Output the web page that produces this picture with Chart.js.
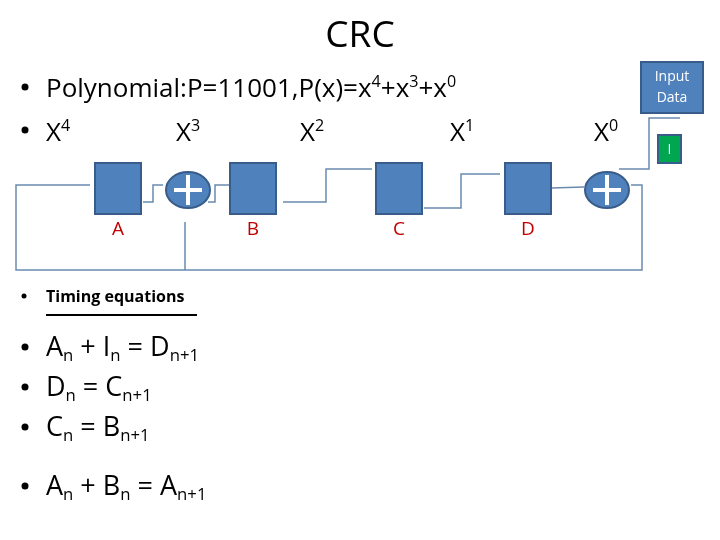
<!DOCTYPE html>
<html>
<head>
<meta charset="utf-8">
<script src="https://cdn.jsdelivr.net/npm/chart.js@4"></script>
<style>
  html, body { margin: 0; padding: 0; background: #fff; }
  #wrap { width: 720px; height: 540px; }
</style>
</head>
<body>
<div id="wrap"><canvas id="myChart"></canvas></div>
<script>
// register cells (A, B, C, D) and xor gates, in slide units (x right, y down)
let cellNames = ["A", "B", "C", "D"];
let cellX = [118, 253, 399, 528];
let cellY = 188;
let xorX = [188, 607];
let xorY = 190;
let powerLabels = ["X4", "X3", "X2", "X1", "X0"];
let powerX = [46, 176, 300, 450, 594];

// wires, null breaks a path
let wireX = [90, 16, 16, 640, 642, 642, 631, null, 163, 153, 153, 143, null, 185, 185, null,
  208, 215, 215, 230, null, 283, 326, 326, 372, null, 424, 461, 461, 500, null,
  551, 584, null, 680, 649, 649, 619];
let wireY = [185, 185, 270, 270, 270, 185, 185, null, 185, 185, 202, 202, null, 270, 222, null,
  202, 202, 185, 185, null, 202, 202, 169, 169, null, 208, 208, 174, 174, null,
  188, 187, null, 118, 118, 169, 169];

let equations = [
  [["A", "n"], ["n", "sub"], [" + I", "n"], ["n", "sub"], [" = D", "n"], ["n+1", "sub"]],
  [["D", "n"], ["n", "sub"], [" = C", "n"], ["n+1", "sub"]],
  [["C", "n"], ["n", "sub"], [" = B", "n"], ["n+1", "sub"]],
  [["A", "n"], ["n", "sub"], [" + B", "n"], ["n", "sub"], [" = A", "n"], ["n+1", "sub"]]
];
let equationY = [356, 396, 436, 495];

let wirePoints = wireX.map((x, i) => (x === null ? { x: NaN, y: NaN } : { x: x, y: wireY[i] }));

const FONT = "'Open Sans', 'Liberation Sans', sans-serif";

function richText(ctx, parts, x, y, size, color) {
  ctx.fillStyle = color;
  ctx.textBaseline = "alphabetic";
  ctx.textAlign = "left";
  for (let p of parts) {
    let s = p[1] === "n" ? size : size * 0.62;
    let dy = p[1] === "sup" ? -size * 0.38 : p[1] === "sub" ? size * 0.18 : 0;
    ctx.font = s + "px " + FONT;
    ctx.fillText(p[0], x, y + dy);
    x += ctx.measureText(p[0]).width;
  }
}

function bullet(ctx, x, y, r) {
  ctx.fillStyle = "#000";
  ctx.beginPath();
  ctx.arc(x, y, r, 0, Math.PI * 2);
  ctx.fill();
}

const slidePlugin = {
  id: "slide",
  afterDatasetsDraw(chart) {
    const ctx = chart.ctx;
    const sx = chart.scales.x, sy = chart.scales.y;
    const px = (v) => sx.getPixelForValue(v);
    const py = (v) => sy.getPixelForValue(v);
    ctx.save();

    ctx.fillStyle = "#000";
    ctx.font = "37px " + FONT;
    ctx.textAlign = "center";
    ctx.textBaseline = "middle";
    ctx.fillText("CRC", px(360), py(36));

    // bullets
    bullet(ctx, px(25), py(87), 3.5);
    bullet(ctx, px(25), py(130), 3.5);
    richText(ctx, [["Polynomial:P=11001,P(x)=x", "n"], ["4", "sup"], ["+x", "n"], ["3", "sup"], ["+x", "n"], ["0", "sup"]],
      px(46), py(97), 26, "#000");
    powerLabels.forEach((l, i) => {
      richText(ctx, [[l[0], "n"], [l.slice(1), "sup"]], px(powerX[i]), py(141), 26, "#000");
    });

    // register cells
    cellX.forEach((cx, i) => {
      ctx.fillStyle = "#4F81BD";
      ctx.strokeStyle = "#385D8A";
      ctx.lineWidth = 2;
      ctx.fillRect(px(cx - 23), py(cellY - 25), 46, 51);
      ctx.strokeRect(px(cx - 23), py(cellY - 25), 46, 51);
      ctx.fillStyle = "#C00000";
      ctx.font = "19px " + FONT;
      ctx.textAlign = "center";
      ctx.textBaseline = "middle";
      ctx.fillText(cellNames[i], px(cx), py(230));
    });

    // xor gates
    xorX.forEach((cx) => {
      ctx.beginPath();
      ctx.ellipse(px(cx), py(xorY), 22, 18, 0, 0, Math.PI * 2);
      ctx.fillStyle = "#4F81BD";
      ctx.fill();
      ctx.strokeStyle = "#385D8A";
      ctx.lineWidth = 2;
      ctx.stroke();
      ctx.strokeStyle = "#fff";
      ctx.lineWidth = 4;
      ctx.beginPath();
      ctx.moveTo(px(cx - 14), py(xorY));
      ctx.lineTo(px(cx + 14), py(xorY));
      ctx.moveTo(px(cx), py(xorY - 15));
      ctx.lineTo(px(cx), py(xorY + 15));
      ctx.stroke();
    });

    // input data box
    ctx.fillStyle = "#4F81BD";
    ctx.strokeStyle = "#385D8A";
    ctx.lineWidth = 2;
    ctx.fillRect(px(641), py(62), 62, 51);
    ctx.strokeRect(px(641), py(62), 62, 51);
    ctx.fillStyle = "#fff";
    ctx.font = "14px " + FONT;
    ctx.textAlign = "center";
    ctx.textBaseline = "middle";
    ctx.fillText("Input", px(672), py(77));
    ctx.fillText("Data", px(672), py(98));
    ctx.fillStyle = "#00A650";
    ctx.strokeStyle = "#385D8A";
    ctx.fillRect(px(658), py(135), 23, 28);
    ctx.strokeRect(px(658), py(135), 23, 28);
    ctx.fillStyle = "#fff";
    ctx.font = "14px " + FONT;
    ctx.fillText("I", px(669.5), py(150));

    // timing equations
    bullet(ctx, px(24), py(296), 2.5);
    ctx.fillStyle = "#000";
    ctx.textAlign = "left";
    ctx.textBaseline = "alphabetic";
    ctx.font = "bold 16px " + FONT;
    ctx.fillText("Timing equations", px(46), py(302));
    ctx.fillRect(px(46), py(314), 151, 2);
    equations.forEach((eq, i) => {
      bullet(ctx, px(25), py(equationY[i] - 9), 3.5);
      richText(ctx, eq, px(46), py(equationY[i]), 27, "#000");
    });
    ctx.restore();
  }
};

new Chart(document.getElementById("myChart"), {
  type: "scatter",
  data: {
    datasets: [
      {
        data: wirePoints,
        showLine: true,
        spanGaps: false,
        borderColor: "#6A8BAE",
        borderWidth: 1.5,
        pointRadius: 0,
      },
    ],
  },
  options: {
    responsive: true,
    maintainAspectRatio: false,
    animation: false,
    layout: { padding: 0 },
    plugins: { legend: { display: false }, tooltip: { enabled: false } },
    scales: {
      x: { type: "linear", min: 0, max: 720, display: false },
      y: { type: "linear", min: 0, max: 540, reverse: true, display: false },
    },
  },
  plugins: [slidePlugin],
});
</script>
</body>
</html>
